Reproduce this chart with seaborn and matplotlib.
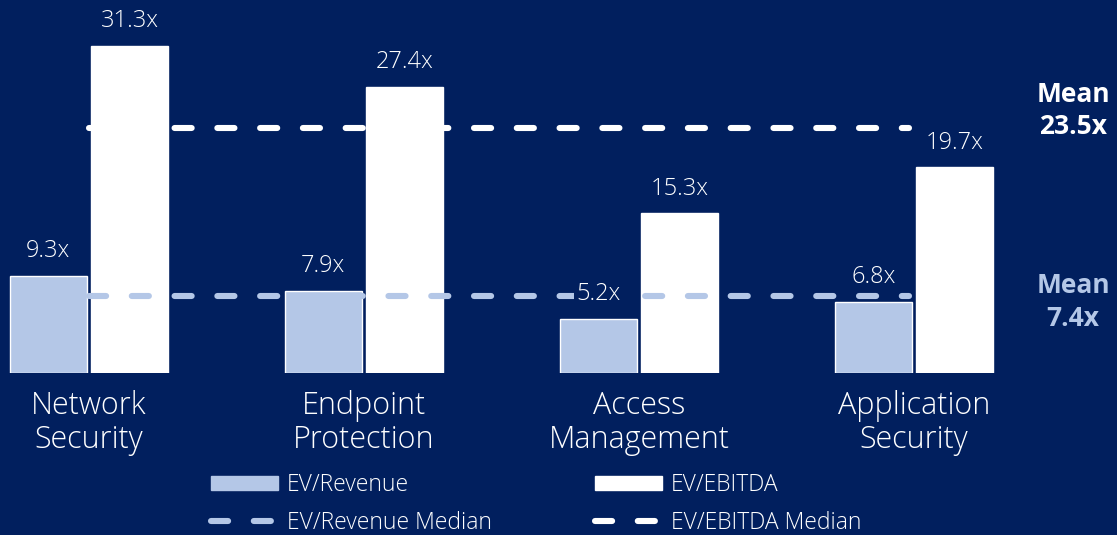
import matplotlib
matplotlib.use('Agg')
import matplotlib.pyplot as plt
from matplotlib.patches import Patch
from matplotlib.lines import Line2D
import pandas as pd
import seaborn as sns

categories = ['Network\nSecurity', 'Endpoint\nProtection', 'Access\nManagement', 'Application\nSecurity']
ev_revenue = [9.3, 7.9, 5.2, 6.8]
ev_ebitda = [31.3, 27.4, 15.3, 19.7]
mean_revenue = 7.4
mean_ebitda = 23.5
series = ['EV/Revenue', 'EV/EBITDA']

BG = '#011F5E'
LIGHT = '#B4C7E7'
WHITE = '#FFFFFF'

data = pd.DataFrame({
    'Segment': categories * 2,
    'Metric': [series[0]] * 4 + [series[1]] * 4,
    'Value': ev_revenue + ev_ebitda,
})

sns.set_style('white')
plt.rcParams['font.family'] = ['Open Sans', 'DejaVu Sans']

fig = plt.figure(figsize=(11.17, 5.35), dpi=100, facecolor=BG)
ax = fig.add_axes([0, 162 / 535, 1, 373 / 535])
ax.set_facecolor(BG)

sns.barplot(data=data, x='Segment', y='Value', hue='Metric',
            palette=[LIGHT, WHITE], width=0.593, gap=0.055,
            saturation=1, legend=False, ax=ax, zorder=2)

ax.set_xlim(-89 / 275, (1117 - 89) / 275)
ax.set_ylim(0, 373 / 10.44)

dash = (0, (2.8, 4.2))
x_end = len(categories) - 1 - 0.02
ax.hlines(mean_ebitda, 0, x_end, color=WHITE, lw=4.4, linestyle=dash,
          capstyle='round', zorder=3)
ax.hlines(mean_revenue, 0, x_end, color=LIGHT, lw=4.4, linestyle=dash,
          capstyle='round', zorder=3)

# value labels
for bars, vals in zip(ax.containers, [ev_revenue, ev_ebitda]):
    for bar, v in zip(bars, vals):
        ax.annotate(f'{v}x', (bar.get_x() + bar.get_width() / 2, v),
                    xytext=(0, 13.5), textcoords='offset points',
                    ha='center', va='baseline', fontsize=17,
                    fontweight='light', color=WHITE, zorder=5,
                    bbox=dict(boxstyle='square,pad=0.1', fc=BG, ec='none'))

# mean labels on the right
label_x = (1073 - 89) / 275
for val, col, dy in [(mean_ebitda, WHITE, 12.5), (mean_revenue, LIGHT, -4.5)]:
    ax.annotate(f'Mean\n{val}x', (label_x, val), xytext=(0, dy),
                textcoords='offset points', ha='center', va='center',
                fontsize=19, fontweight='bold', color=col, linespacing=1.25)

ax.set_xticks(range(len(categories)))
ax.set_xticklabels(categories, fontsize=22, fontweight='light', color=WHITE,
                   linespacing=1.08)
ax.tick_params(axis='x', length=0, pad=12)
ax.set_yticks([])
ax.set_xlabel('')
ax.set_ylabel('')
sns.despine(ax=ax, left=True, bottom=True)

legend_groups = [
    (LIGHT, ['EV/Revenue', 'EV/Revenue Median'], 211),
    (WHITE, ['EV/EBITDA', 'EV/EBITDA Median'], 595),
]
for col, labels, xpix in legend_groups:
    handles = [
        Patch(color=col),
        Line2D([], [], color=col, lw=4.4, linestyle=dash, dash_capstyle='round'),
    ]
    leg = fig.legend(handles, labels, loc='upper left',
                     bbox_to_anchor=(xpix / 1117, 1 - 473 / 535),
                     frameon=False, fontsize=16.5, handlelength=2.93,
                     handleheight=0.62, handletextpad=0.38,
                     labelspacing=0.62, borderpad=0, borderaxespad=0)
    for t in leg.get_texts():
        t.set_color(WHITE)
        t.set_fontweight('light')

fig.savefig('out.png', dpi=100, facecolor=BG)
